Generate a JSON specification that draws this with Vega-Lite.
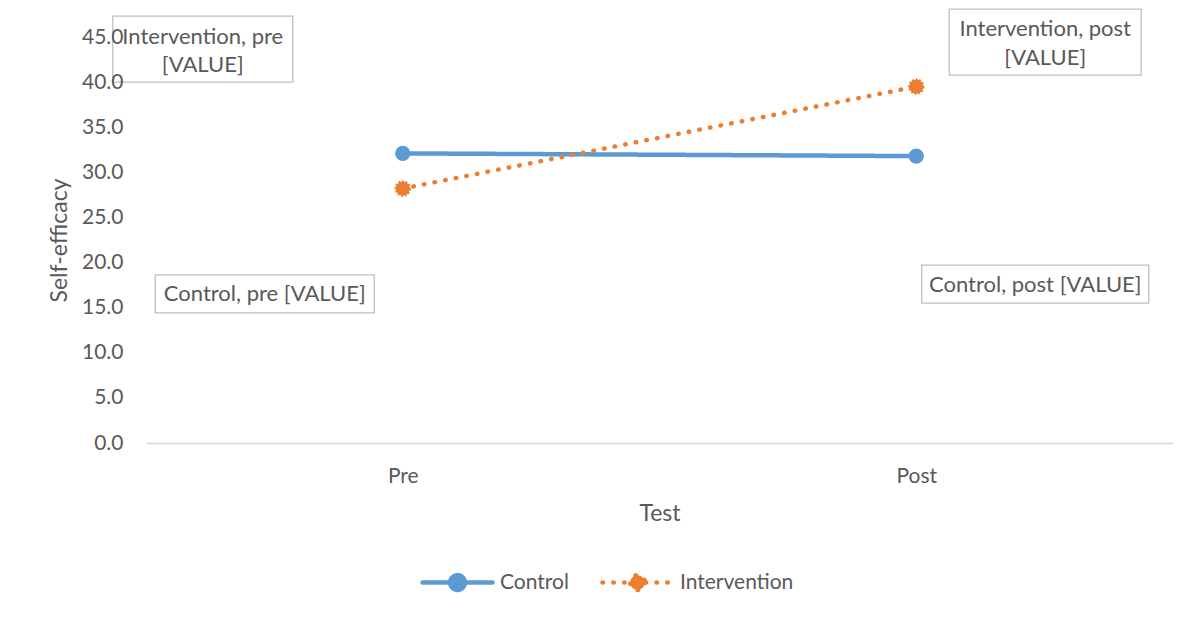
{
  "$schema": "https://vega.github.io/schema/vega-lite/v6.json",
  "width": 1027,
  "height": 406,
  "autosize": {"type": "none"},
  "padding": {"left": 146, "top": 37, "right": 20, "bottom": 175},
  "background": "white",
  "config": {
    "view": {"stroke": null},
    "font": "Lato",
    "text": {"font": "Lato"}
  },
  "data": {
    "values": [
      {"group": "Control", "test": "Pre", "value": 32.1},
      {"group": "Control", "test": "Post", "value": 31.8},
      {"group": "Intervention", "test": "Pre", "value": 28.2},
      {"group": "Intervention", "test": "Post", "value": 39.5}
    ]
  },
  "encoding": {
    "x": {
      "field": "test",
      "type": "nominal",
      "sort": ["Pre", "Post"],
      "scale": {"type": "point", "padding": 0.5},
      "axis": {
        "title": "Test",
        "labelAngle": 0,
        "ticks": false,
        "grid": false,
        "domainColor": "#d9d9d9",
        "domainWidth": 1.3,
        "labelPadding": 22,
        "labelFontSize": 21,
        "labelColor": "#595959",
        "titleFontSize": 23,
        "titleFontWeight": "normal",
        "titleColor": "#595959",
        "titlePadding": 16
      }
    },
    "y": {
      "field": "value",
      "type": "quantitative",
      "scale": {"domain": [0, 45], "nice": false, "zero": true},
      "axis": {
        "title": "Self-efficacy",
        "values": [0, 5, 10, 15, 20, 25, 30, 35, 40, 45],
        "format": ".1f",
        "ticks": false,
        "domain": false,
        "grid": false,
        "zindex": 2,
        "labelPadding": 23,
        "labelFontSize": 21,
        "labelColor": "#595959",
        "titleFontSize": 23,
        "titleFontWeight": "normal",
        "titleColor": "#595959",
        "titlePadding": 10
      }
    }
  },
  "layer": [
    {
      "mark": {"type": "line", "strokeWidth": 4.5, "strokeCap": "round"},
      "encoding": {
        "color": {
          "field": "group",
          "type": "nominal",
          "scale": {"domain": ["Control", "Intervention"], "range": ["#5b9bd5", "#ed7d31"]},
          "legend": {
            "orient": "none",
            "legendX": 274,
            "legendY": 508,
            "direction": "horizontal",
            "title": null,
            "symbolType": "M-1,0H1M0.21,0A0.21,0.21,0,1,1,-0.21,0A0.21,0.21,0,1,1,0.21,0Z",
            "symbolSize": 4900,
            "symbolStrokeWidth": 4.5,
            "labelFontSize": 21,
            "labelColor": "#595959",
            "labelOffset": 5,
            "columnPadding": 24,
            "encode": {
              "symbols": {
                "update": {
                  "fill": {"scale": "color", "field": "value"},
                  "strokeCap": {"value": "round"}
                }
              }
            }
          }
        },
        "strokeDash": {
          "field": "group",
          "type": "nominal",
          "scale": {"domain": ["Control", "Intervention"], "range": [[1, 0], [0.5, 10.3]]},
          "legend": null
        }
      }
    },
    {
      "transform": [{"filter": "datum.group === 'Control'"}],
      "mark": {"type": "point", "shape": "circle", "filled": true, "size": 235, "color": "#5b9bd5", "opacity": 1}
    },
    {
      "transform": [{"filter": "datum.group === 'Intervention'"}],
      "mark": {"type": "point", "shape": "circle", "filled": true, "size": 190, "color": "#ed7d31", "stroke": "#ed7d31", "strokeWidth": 2.5, "strokeDash": [2, 1.5], "opacity": 1}
    },
    {
      "transform": [{"filter": "datum.group === 'Intervention' && datum.test === 'Pre'"}],
      "layer": [
        {"mark": {"type": "rect", "width": 180, "height": 66, "xOffset": -200, "yOffset": -139.5, "fill": "white", "stroke": "#bfbfbf", "strokeWidth": 1.3}},
        {
          "mark": {"type": "text", "xOffset": -200, "yOffset": -151.5, "fontSize": 22, "color": "#595959", "lineHeight": 28, "baseline": "middle", "align": "center"},
          "encoding": {"text": {"value": ["Intervention, pre", "[VALUE]"]}}
        }
      ]
    },
    {
      "transform": [{"filter": "datum.group === 'Intervention' && datum.test === 'Post'"}],
      "layer": [
        {"mark": {"type": "rect", "width": 192, "height": 66, "xOffset": 129, "yOffset": -44.5, "fill": "white", "stroke": "#bfbfbf", "strokeWidth": 1.3}},
        {
          "mark": {"type": "text", "xOffset": 129, "yOffset": -57.5, "fontSize": 22, "color": "#595959", "lineHeight": 29, "baseline": "middle", "align": "center"},
          "encoding": {"text": {"value": ["Intervention, post", "[VALUE]"]}}
        }
      ]
    },
    {
      "transform": [{"filter": "datum.group === 'Control' && datum.test === 'Pre'"}],
      "layer": [
        {"mark": {"type": "rect", "width": 219, "height": 38, "xOffset": -138, "yOffset": 140.5, "fill": "white", "stroke": "#bfbfbf", "strokeWidth": 1.3}},
        {
          "mark": {"type": "text", "xOffset": -138, "yOffset": 141, "fontSize": 22, "color": "#595959", "baseline": "middle", "align": "center"},
          "encoding": {"text": {"value": "Control, pre [VALUE]"}}
        }
      ]
    },
    {
      "transform": [{"filter": "datum.group === 'Control' && datum.test === 'Post'"}],
      "layer": [
        {"mark": {"type": "rect", "width": 227, "height": 38, "xOffset": 119, "yOffset": 128, "fill": "white", "stroke": "#bfbfbf", "strokeWidth": 1.3}},
        {
          "mark": {"type": "text", "xOffset": 119, "yOffset": 128.5, "fontSize": 22, "color": "#595959", "baseline": "middle", "align": "center"},
          "encoding": {"text": {"value": "Control, post [VALUE]"}}
        }
      ]
    }
  ]
}
